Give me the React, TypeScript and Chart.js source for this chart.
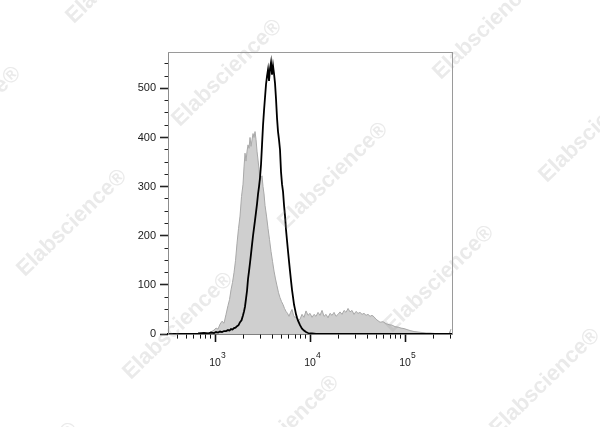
import React, { useEffect, useRef } from "react";
import { Chart, registerables } from "chart.js";

Chart.register(...registerables);

// Isotype control (grey filled histogram): fluorescence intensity vs events
const isotypeX = [
  663, 766, 844, 908, 976, 1025, 1076, 1129, 1185, 1244, 1306, 1370, 1421, 1474, 1528, 1585, 1644, 1705, 1768, 1833,
  1901, 1971, 2020, 2069, 2120, 2172, 2225, 2280, 2336, 2393, 2452, 2512, 2574, 2637, 2701, 2768, 2836, 2905, 2976, 3049,
  3124, 3201, 3279, 3360, 3484, 3613, 3746, 3885, 4029, 4178, 4332, 4492, 4659, 4831, 5012, 5197, 5389, 5589, 5796, 6010,
  6232, 6463, 6702, 6950, 7207, 7473, 7844, 8233, 8641, 9069, 9527, 10000, 10497, 11018, 11564, 12138, 12740, 13372, 14035, 14736,
  15466, 16234, 17045, 17889, 18776, 19714, 20693, 21720, 22798, 23930, 25119, 26367, 27676, 29050, 30493, 32007, 33596, 35265, 37016, 38849,
  40781, 42806, 44924, 47158, 49500, 51972, 54556, 58695, 63096, 67836, 72992, 78438, 84386, 90694, 97605, 104970, 112890, 124370, 137030, 150980,
  166360, 183300, 206930, 233570, 263670, 290500, 304930,
];
const isotypeCounts = [
  0, 1, 2, 4, 8, 12, 10, 20, 26, 22, 40, 58, 70, 90, 105, 125, 150, 185, 215, 240,
  280, 305, 340, 368, 352, 372, 385, 378, 400, 382, 395, 408, 400, 412, 396, 372, 354, 335, 312, 318,
  322, 300, 285, 262, 240, 215, 192, 168, 148, 128, 112, 98, 84, 74, 66, 60, 52, 46, 42, 36,
  44, 50, 38, 33, 36, 28, 30, 40, 34, 47, 38, 42, 34, 40, 36, 44, 38, 48, 36, 40,
  33, 42, 38, 44, 36, 40, 45, 40, 48, 44, 52, 45, 48, 40, 46, 42, 44, 40, 42, 38,
  40, 36, 38, 35, 30, 27, 24, 25, 21, 19, 18, 15, 14, 12, 11, 9, 7, 5, 4, 3,
  2, 2, 1, 1, 1, 1, 10,
];

// Stained sample (black line histogram)
const stainedX = [
  663, 766, 844, 908, 976, 1025, 1076, 1129, 1185, 1244, 1306, 1370, 1421, 1474, 1528, 1585, 1644, 1705, 1768, 1833,
  1901, 1971, 2020, 2069, 2120, 2172, 2225, 2280, 2336, 2393, 2452, 2512, 2574, 2637, 2701, 2768, 2836, 2905, 2976, 3049,
  3124, 3201, 3279, 3360, 3442, 3527, 3613, 3702, 3792, 3885, 3981, 4078, 4178, 4281, 4386, 4492, 4603, 4716, 4831, 4950,
  5072, 5197, 5325, 5456, 5589, 5726, 5870, 6010, 6157, 6310, 6463, 6621, 6784, 6950, 7120, 7299, 7473, 7844, 8233, 8641,
  9069, 9527, 10000, 10497, 11564, 20693, 54556, 304930,
];
const stainedCounts = [
  1, 2, 1, 3, 2, 4, 3, 5, 4, 6, 6, 8, 7, 10, 9, 12, 13, 16, 18, 24,
  28, 38, 46, 56, 72, 88, 112, 128, 145, 163, 182, 200, 216, 232, 248, 265, 285, 300, 318, 345,
  385, 425, 455, 482, 508, 525, 538, 515, 540, 553, 528, 546, 530, 510, 478, 440, 412, 395, 375, 330,
  305, 290, 262, 240, 212, 190, 168, 148, 128, 108, 90, 75, 60, 50, 40, 33, 27, 18, 11, 7,
  4, 2, 1, 1, 0, 0, 0, 0,
];

// Axes
const X_MIN = 320;
const X_MAX = 312000;
const Y_MIN = 0;
const Y_MAX = 574;
const xMajorTicks = [1000, 10000, 100000];
const xMinorTicks = [
  400, 500, 600, 700, 800, 900,
  2000, 3000, 4000, 5000, 6000, 7000, 8000, 9000,
  20000, 30000, 40000, 50000, 60000, 70000, 80000, 90000,
  200000, 300000,
];
const xTickBase = "10";
const xTickExponents = ["3", "4", "5"];
const yMajorTicks = [0, 100, 200, 300, 400, 500];
const yMinorTicks = [25, 50, 75, 125, 150, 175, 225, 250, 275, 325, 350, 375, 425, 450, 475, 525, 550];

const watermarkText = "Elabscience®";
const watermarkCenters: [number, number][] = [
  [121, -30], [227, 73], [333, 176], [439, 279], [545, 382],
  [-34, 120], [72, 223], [178, 326], [284, 429],
  [488, 26], [594, 129], [23, 476],
];

const FONT = '"Liberation Sans", Arial, Helvetica, sans-serif';

const exponentPlugin = {
  id: "exponents",
  afterDraw(chart: any) {
    const scale = chart.scales.x;
    const ctx = chart.ctx;
    ctx.save();
    ctx.font = `8.5px ${FONT}`;
    ctx.fillStyle = "#1a1a1a";
    ctx.textAlign = "left";
    ctx.textBaseline = "middle";
    xMajorTicks.forEach((v, i) => {
      const px = scale.getPixelForValue(v);
      ctx.fillText(xTickExponents[i], px + 6, scale.top + 22);
    });
    ctx.restore();
  },
};

const watermarkPlugin = {
  id: "watermark",
  afterDraw(chart: any) {
    const ctx = chart.ctx;
    ctx.save();
    ctx.font = `bold 22px ${FONT}`;
    ctx.fillStyle = "rgba(150,150,150,0.2)";
    ctx.textAlign = "center";
    ctx.textBaseline = "middle";
    watermarkCenters.forEach(([x, y]) => {
      ctx.save();
      ctx.translate(x, y);
      ctx.rotate((-44 * Math.PI) / 180);
      ctx.fillText(watermarkText, 0, 0);
      ctx.restore();
    });
    ctx.restore();
  },
};

export default function App() {
  const canvasRef = useRef<HTMLCanvasElement | null>(null);

  useEffect(() => {
    const canvas = canvasRef.current;
    if (!canvas) return;
    const isMajorX = (v: number) => xMajorTicks.includes(v);
    const isMajorY = (v: number) => yMajorTicks.includes(v);

    const chart = new Chart(canvas, {
      type: "line",
      data: {
        datasets: [
          {
            label: "Stained",
            data: stainedX.map((x, i) => ({ x, y: stainedCounts[i] })),
            borderColor: "#000000",
            borderWidth: 1.8,
            pointRadius: 0,
            tension: 0,
            fill: false,
            order: 0,
          },
          {
            label: "Isotype",
            data: isotypeX.map((x, i) => ({ x, y: isotypeCounts[i] })),
            borderColor: "#a8a8a8",
            backgroundColor: "#cfcfcf",
            borderWidth: 1,
            pointRadius: 0,
            tension: 0,
            fill: "origin",
            order: 1,
          },
        ],
      },
      options: {
        animation: false,
        responsive: true,
        maintainAspectRatio: false,
        layout: { padding: { left: 128, right: 148, top: 52, bottom: 53 } },
        plugins: {
          legend: { display: false },
          tooltip: { enabled: false },
        },
        scales: {
          x: {
            type: "logarithmic",
            position: "bottom",
            min: X_MIN,
            max: X_MAX,
            z: 1,
            afterBuildTicks: (scale: any) => {
              scale.ticks = [...xMajorTicks, ...xMinorTicks]
                .sort((a, b) => a - b)
                .map((v) => ({ value: v, major: false }));
            },
            afterFit: (scale: any) => {
              scale.height = 40;
            },
            ticks: {
              autoSkip: false,
              maxRotation: 0,
              padding: 15,
              color: "#1a1a1a",
              font: { family: FONT, size: 10.5 },
              callback: (v: any) => (isMajorX(Number(v)) ? xTickBase : ""),
            },
            grid: {
              display: true,
              drawOnChartArea: false,
              drawTicks: true,
              tickLength: 8,
              tickColor: "#111111",
              tickWidth: (ctx: any) => (ctx.tick && isMajorX(ctx.tick.value) ? 1.6 : 1),
              tickBorderDash: (ctx: any) => (ctx.tick && isMajorX(ctx.tick.value) ? [] : [4, 20]),
            },
            border: { display: true, color: "#000000", width: 1.6 },
          },
          y: {
            type: "linear",
            position: "left",
            min: Y_MIN,
            max: Y_MAX,
            afterBuildTicks: (scale: any) => {
              scale.ticks = [...yMajorTicks, ...yMinorTicks]
                .sort((a, b) => a - b)
                .map((v) => ({ value: v, major: false }));
            },
            afterFit: (scale: any) => {
              scale.width = 40;
            },
            ticks: {
              autoSkip: false,
              padding: 4,
              color: "#1a1a1a",
              font: { family: FONT, size: 11 },
              callback: (v: any) => (isMajorY(Number(v)) ? String(v) : ""),
            },
            grid: {
              display: true,
              drawOnChartArea: false,
              drawTicks: true,
              tickLength: 8,
              tickColor: "#222222",
              tickWidth: (ctx: any) => (ctx.tick && isMajorY(ctx.tick.value) ? 1.6 : 1),
              tickBorderDash: (ctx: any) => (ctx.tick && isMajorY(ctx.tick.value) ? [] : [0, 4.5, 4, 0]),
            },
            border: { display: true, color: "#8c8c8c", width: 1 },
          },
          xTop: {
            type: "linear",
            position: "top",
            min: 0,
            max: 1,
            afterFit: (scale: any) => {
              scale.height = 0;
            },
            ticks: { display: false },
            grid: { display: false, drawTicks: false },
            border: { display: true, color: "#9a9a9a", width: 1 },
          },
          yRight: {
            type: "linear",
            position: "right",
            min: 0,
            max: 1,
            afterFit: (scale: any) => {
              scale.width = 0;
            },
            ticks: { display: false },
            grid: { display: false, drawTicks: false },
            border: { display: true, color: "#9a9a9a", width: 1 },
          },
        },
      } as any,
      plugins: [exponentPlugin, watermarkPlugin],
    });

    return () => chart.destroy();
  }, []);

  return (
    <div
      style={{
        position: "fixed",
        left: 0,
        top: 0,
        width: 600,
        height: 427,
        background: "#ffffff",
      }}
    >
      <canvas ref={canvasRef} />
    </div>
  );
}
